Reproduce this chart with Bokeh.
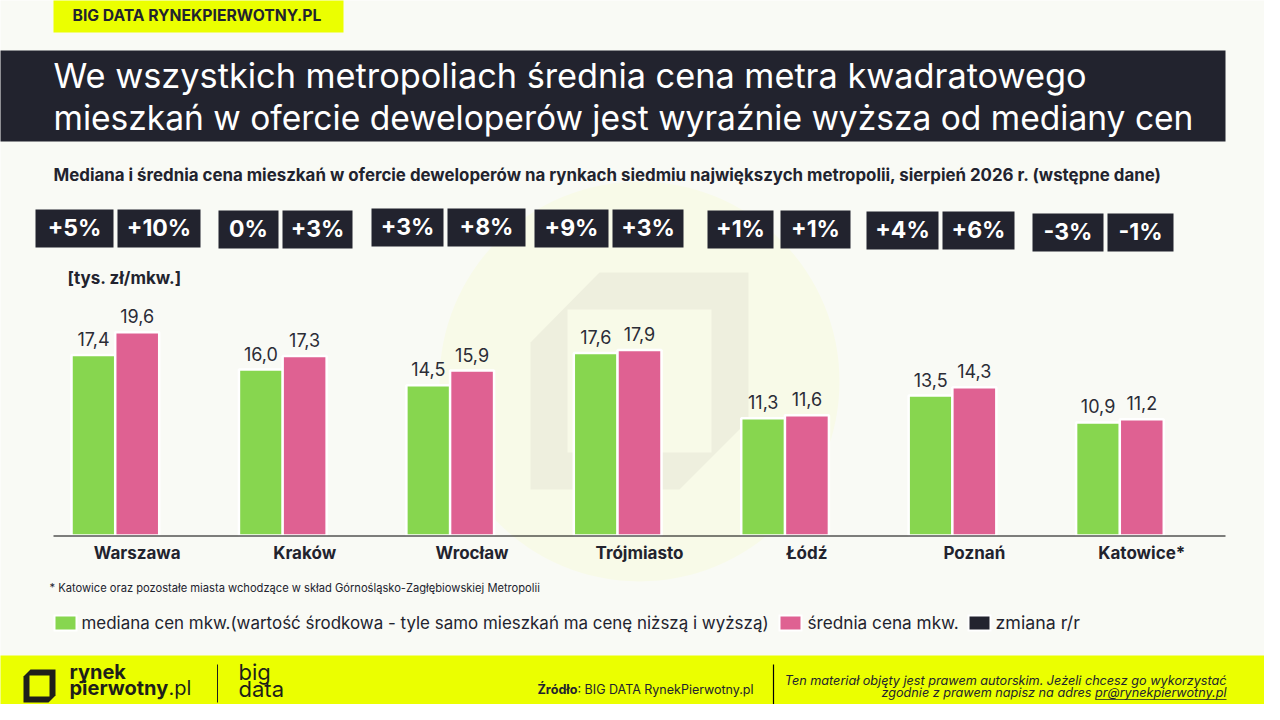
from bokeh.core.properties import value
from bokeh.embed import file_html
from bokeh.models import ColumnDataSource, FixedTicker, LinearAxis, Range1d
from bokeh.plotting import figure
from bokeh.resources import INLINE
from bokeh.transform import dodge

# ---- data ----
cities = ["Warszawa", "Kraków", "Wrocław", "Trójmiasto", "Łódź", "Poznań", "Katowice*"]
median_price = [17.4, 16.0, 14.5, 17.6, 11.3, 13.5, 10.9]
mean_price = [19.6, 17.3, 15.9, 17.9, 11.6, 14.3, 11.2]
median_change = ["+5%", "0%", "+3%", "+9%", "+1%", "+4%", "-3%"]
mean_change = ["+10%", "+3%", "+8%", "+3%", "+1%", "+6%", "-1%"]

# ---- layout (picture pixels) ----
W, H = 1264, 704
NUDGE = 1
BASE_Y, PX_PER_UNIT = 536 - NUDGE, 10.37
STEP = (1226 - 54) / 7
median_badges = [(36, 114, 210), (219, 279, 211), (372, 444, 209), (535, 609, 210), (708, 774, 211), (867, 939, 212), (1033, 1104, 214)]
mean_badges = [(118, 201, 210), (283, 353, 211), (448, 526, 209), (613, 684, 210), (781, 851, 211), (943, 1015, 212), (1108, 1174, 214)]

BG, DARK, YELLOW = "#F9FAF5", "#22232E", "#EBFF00"
GREEN, PINK = "#87D64F", "#DF6192"
FONT = "Inter"

idx = list(range(len(cities)))
x_range = Range1d(-0.5 - (54 - NUDGE) / STEP, len(cities) - 0.5 + (W - 1226 + NUDGE) / STEP)
y_range = Range1d(-(H - BASE_Y) / PX_PER_UNIT, BASE_Y / PX_PER_UNIT)

p = figure(width=W, height=H, x_range=x_range, y_range=y_range, output_backend="svg",
           toolbar_location=None, x_axis_location=None, y_axis_location=None, min_border=0,
           background_fill_color=BG, border_fill_color=BG, outline_line_color=None)
p.xgrid.visible = False
p.ygrid.visible = False
p.extra_x_ranges["px"] = Range1d(NUDGE, W + NUDGE)
p.extra_y_ranges["px"] = Range1d(H + NUDGE, NUDGE)
PX = dict(x_range_name="px", y_range_name="px")


def rect(l, r, t, b, color, **kw):
    p.quad(left=[l], right=[r], top=[t], bottom=[b], fill_color=color, line_color=None, **PX, **kw)


def poly(xs, ys, color):
    p.patch(xs, ys, fill_color=color, line_color=None, **PX)


def text(x, y, s, size, color=DARK, style="normal", align="left", font=FONT):
    p.text([x], [y], text=[s], text_font=value(font), text_font_size=f"{size}px", text_color=color,
           text_font_style=style, text_align=align, text_baseline="middle", **PX)


# watermark
p.circle(x=[640], y=[382], radius=200, fill_color="#F8FAE8", line_color=None, **PX)
poly([600, 749, 749, 680, 531, 531], [273, 273, 421, 490, 490, 343], "#EEEFDE")
rect(568, 712, 310, 453, "#F8FAE8")

# top tag
rect(54, 344, 0, 33, YELLOW)
text(73, 16, "BIG DATA RYNEKPIERWOTNY.PL", 15.7, style="bold")

# title band
rect(0, 1226, 51, 142, DARK)
text(54, 76, "We wszystkich metropoliach średnia cena metra kwadratowego", 34.3, color="#FFFFFF")
text(54, 118, "mieszkań w ofercie deweloperów jest wyraźnie wyższa od mediany cen", 33.55, color="#FFFFFF")

text(54, 175, "Mediana i średnia cena mieszkań w ofercie deweloperów na rynkach siedmiu największych metropolii, sierpień 2026 r.  (wstępne dane)", 16.87, style="bold")

# change badges
for labels, boxes in ((median_change, median_badges), (mean_change, mean_badges)):
    for label, (l, r, t) in zip(labels, boxes):
        rect(l, r, t, t + 38, DARK)
        text((l + r) / 2, t + 18, label, 23, color="#FFFFFF", style="bold", align="center")

text(68, 278, "[tys. zł/mkw.]", 17, style="bold")

# bars
src = ColumnDataSource(dict(i=idx, median=median_price, mean=mean_price,
                            median_txt=[f"{v:.1f}".replace(".", ",") for v in median_price],
                            mean_txt=[f"{v:.1f}".replace(".", ",") for v in mean_price]))
OFF = -43.7 / STEP
BAR_W = 44 / STEP
p.vbar(x=dodge("i", OFF), top="median", width=BAR_W, bottom=0, source=src,
       fill_color=GREEN, line_color="#FFFFFF", line_width=2.5)
p.vbar(x="i", top="mean", width=BAR_W, bottom=0, source=src,
       fill_color=PINK, line_color="#FFFFFF", line_width=2.5)
LBL = dict(source=src, text_font=value(FONT), text_font_size="18px", text_color="#2B2C36", text_align="center",
           text_baseline="bottom", y_offset=-9)
p.text(x=dodge("i", OFF), y="median", text="median_txt", **LBL)
p.text(x="i", y="mean", text="mean_txt", **LBL)

# baseline and category axis
p.segment([54], [536.5], [1226], [536.5], line_color="#000000", line_width=1, **PX)
axis = LinearAxis(fixed_location=0, ticker=FixedTicker(ticks=idx),
                  major_label_overrides=dict(zip(idx, cities)),
                  axis_line_color=None, major_tick_line_color=None,
                  minor_tick_line_color=None, major_label_text_font=FONT,
                  major_label_text_font_size="17px", major_label_text_font_style="bold",
                  major_label_text_color=DARK, major_label_standoff=1)
p.add_layout(axis, "below")

text(50, 588, "* Katowice oraz pozostałe miasta wchodzące w skład Górnośląsko-Zagłębiowskiej Metropolii", 11.15)

# legend
for l, c in ((56, GREEN), (781, PINK), (970, DARK)):
    rect(l - 2, l + 22, 615, 632, "#FFFFFF")
    rect(l, l + 20, 617, 630, c)
text(82, 623, "mediana cen mkw.(wartość środkowa - tyle samo mieszkań ma cenę niższą i wyższą)", 16.95)
text(808, 623, "średnia cena mkw.", 17.2)
text(996, 623, "zmiana r/r", 17.8)

# footer
rect(0, W + 2, 656, H + 2, YELLOW)
poly([31, 56, 56, 49, 24, 24], [670, 670, 696, 703, 703, 677], "#1E1F1A")
rect(30, 50, 676, 697, YELLOW)
text(70, 672, "rynek", 20, color="#1E1F1A", style="bold")
text(70, 688, "pierwotny", 20, color="#1E1F1A", style="bold")
text(169, 688, ".pl", 20, color="#1E1F1A")
p.segment([218], [665], [218], [703], line_color="#1E1F1A", line_width=1, **PX)
text(239, 672, "big", 22, color="#1E1F1A")
text(239, 689, "data", 22, color="#1E1F1A")
text(538, 690, "Źródło", 12.6, style="bold")
text(578, 690, ": BIG DATA RynekPierwotny.pl", 12.5)
p.segment([774], [665], [774], [705], line_color="#000000", line_width=1.2, **PX)
text(1227, 681, "Ten materiał objęty jest prawem autorskim. Jeżeli chcesz go wykorzystać", 12.65, style="italic", align="right")
text(1227, 693, "zgodnie z prawem napisz na adres pr@rynekpierwotny.pl", 12.65, style="italic", align="right")
p.segment([1096], [700], [1227], [700], line_color=DARK, line_width=0.8, **PX)

open("out.html", "w").write(file_html(p, INLINE))
